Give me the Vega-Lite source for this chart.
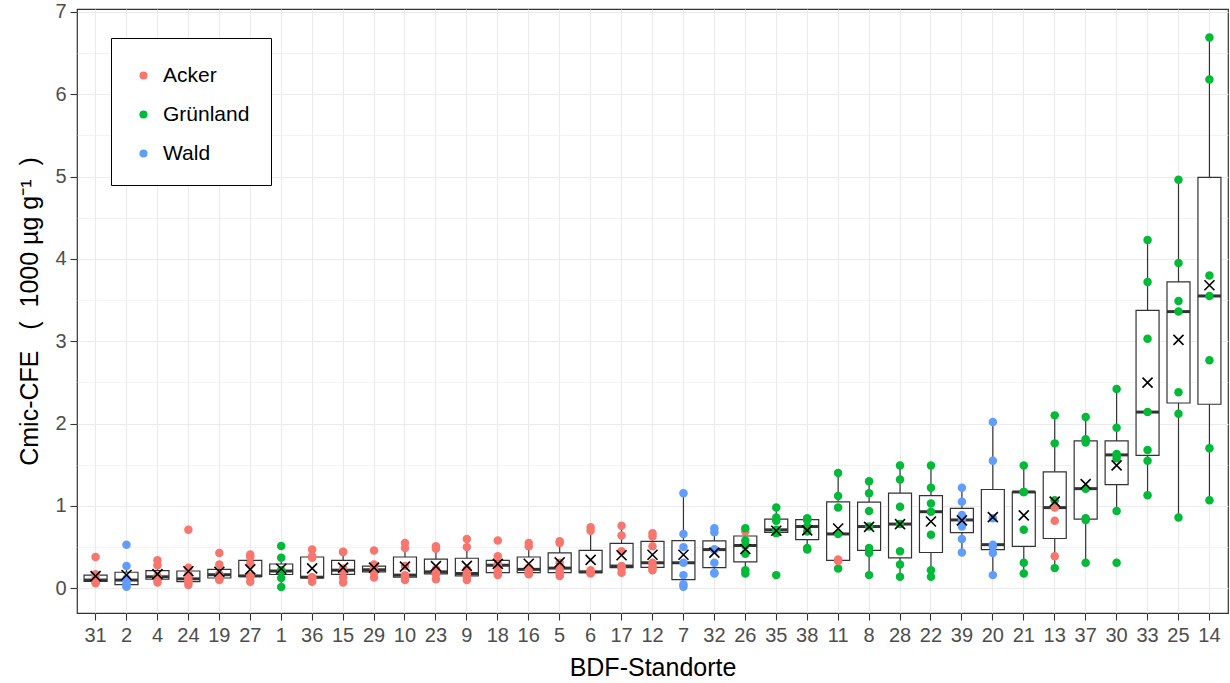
{
  "$schema": "https://vega.github.io/schema/vega-lite/v6.json",
  "width": 1151,
  "height": 604,
  "autosize": {"type": "none"},
  "padding": {"left": 77, "top": 9, "right": 2, "bottom": 70},
  "background": "white",
  "config": {"font": "Liberation Sans", "view": {"stroke": "#333333", "strokeWidth": 1.2}},
  "data": {"values": [
    {"site":"31","land":"Acker","value":0.06},{"site":"31","land":"Acker","value":0.08},{"site":"31","land":"Acker","value":0.09},{"site":"31","land":"Acker","value":0.10},{"site":"31","land":"Acker","value":0.15},{"site":"31","land":"Acker","value":0.17},{"site":"31","land":"Acker","value":0.38},
    {"site":"2","land":"Wald","value":0.02},{"site":"2","land":"Wald","value":0.03},{"site":"2","land":"Wald","value":0.06},{"site":"2","land":"Wald","value":0.10},{"site":"2","land":"Wald","value":0.12},{"site":"2","land":"Wald","value":0.27},{"site":"2","land":"Wald","value":0.53},
    {"site":"4","land":"Acker","value":0.07},{"site":"4","land":"Acker","value":0.10},{"site":"4","land":"Acker","value":0.12},{"site":"4","land":"Acker","value":0.14},{"site":"4","land":"Acker","value":0.15},{"site":"4","land":"Acker","value":0.28},{"site":"4","land":"Acker","value":0.34},
    {"site":"24","land":"Acker","value":0.04},{"site":"24","land":"Acker","value":0.07},{"site":"24","land":"Acker","value":0.09},{"site":"24","land":"Acker","value":0.115},{"site":"24","land":"Acker","value":0.17},{"site":"24","land":"Acker","value":0.25},{"site":"24","land":"Acker","value":0.71},
    {"site":"19","land":"Acker","value":0.10},{"site":"19","land":"Acker","value":0.12},{"site":"19","land":"Acker","value":0.13},{"site":"19","land":"Acker","value":0.165},{"site":"19","land":"Acker","value":0.17},{"site":"19","land":"Acker","value":0.29},{"site":"19","land":"Acker","value":0.43},
    {"site":"27","land":"Acker","value":0.08},{"site":"27","land":"Acker","value":0.14},{"site":"27","land":"Acker","value":0.15},{"site":"27","land":"Acker","value":0.15},{"site":"27","land":"Acker","value":0.30},{"site":"27","land":"Acker","value":0.38},{"site":"27","land":"Acker","value":0.41},
    {"site":"1","land":"Grünland","value":0.015},{"site":"1","land":"Grünland","value":0.125},{"site":"1","land":"Grünland","value":0.21},{"site":"1","land":"Grünland","value":0.21},{"site":"1","land":"Grünland","value":0.22},{"site":"1","land":"Grünland","value":0.37},{"site":"1","land":"Grünland","value":0.515},
    {"site":"36","land":"Acker","value":0.08},{"site":"36","land":"Acker","value":0.12},{"site":"36","land":"Acker","value":0.13},{"site":"36","land":"Acker","value":0.135},{"site":"36","land":"Acker","value":0.37},{"site":"36","land":"Acker","value":0.39},{"site":"36","land":"Acker","value":0.47},
    {"site":"15","land":"Acker","value":0.07},{"site":"15","land":"Acker","value":0.13},{"site":"15","land":"Acker","value":0.21},{"site":"15","land":"Acker","value":0.22},{"site":"15","land":"Acker","value":0.24},{"site":"15","land":"Acker","value":0.44},{"site":"15","land":"Acker","value":0.445},
    {"site":"29","land":"Acker","value":0.13},{"site":"29","land":"Acker","value":0.19},{"site":"29","land":"Acker","value":0.21},{"site":"29","land":"Acker","value":0.225},{"site":"29","land":"Acker","value":0.25},{"site":"29","land":"Acker","value":0.29},{"site":"29","land":"Acker","value":0.46},
    {"site":"10","land":"Acker","value":0.10},{"site":"10","land":"Acker","value":0.13},{"site":"10","land":"Acker","value":0.14},{"site":"10","land":"Acker","value":0.16},{"site":"10","land":"Acker","value":0.27},{"site":"10","land":"Acker","value":0.49},{"site":"10","land":"Acker","value":0.55},
    {"site":"23","land":"Acker","value":0.11},{"site":"23","land":"Acker","value":0.17},{"site":"23","land":"Acker","value":0.18},{"site":"23","land":"Acker","value":0.20},{"site":"23","land":"Acker","value":0.23},{"site":"23","land":"Acker","value":0.48},{"site":"23","land":"Acker","value":0.51},
    {"site":"9","land":"Acker","value":0.10},{"site":"9","land":"Acker","value":0.14},{"site":"9","land":"Acker","value":0.16},{"site":"9","land":"Acker","value":0.18},{"site":"9","land":"Acker","value":0.23},{"site":"9","land":"Acker","value":0.50},{"site":"9","land":"Acker","value":0.60},
    {"site":"18","land":"Acker","value":0.16},{"site":"18","land":"Acker","value":0.18},{"site":"18","land":"Acker","value":0.20},{"site":"18","land":"Acker","value":0.28},{"site":"18","land":"Acker","value":0.29},{"site":"18","land":"Acker","value":0.39},{"site":"18","land":"Acker","value":0.58},
    {"site":"16","land":"Acker","value":0.17},{"site":"16","land":"Acker","value":0.18},{"site":"16","land":"Acker","value":0.20},{"site":"16","land":"Acker","value":0.23},{"site":"16","land":"Acker","value":0.25},{"site":"16","land":"Acker","value":0.51},{"site":"16","land":"Acker","value":0.55},
    {"site":"5","land":"Acker","value":0.15},{"site":"5","land":"Acker","value":0.18},{"site":"5","land":"Acker","value":0.20},{"site":"5","land":"Acker","value":0.245},{"site":"5","land":"Acker","value":0.31},{"site":"5","land":"Acker","value":0.55},{"site":"5","land":"Acker","value":0.57},
    {"site":"6","land":"Acker","value":0.18},{"site":"6","land":"Acker","value":0.19},{"site":"6","land":"Acker","value":0.19},{"site":"6","land":"Acker","value":0.20},{"site":"6","land":"Acker","value":0.22},{"site":"6","land":"Acker","value":0.70},{"site":"6","land":"Acker","value":0.74},
    {"site":"17","land":"Acker","value":0.19},{"site":"17","land":"Acker","value":0.24},{"site":"17","land":"Acker","value":0.26},{"site":"17","land":"Acker","value":0.27},{"site":"17","land":"Acker","value":0.45},{"site":"17","land":"Acker","value":0.64},{"site":"17","land":"Acker","value":0.76},
    {"site":"12","land":"Acker","value":0.22},{"site":"12","land":"Acker","value":0.24},{"site":"12","land":"Acker","value":0.27},{"site":"12","land":"Acker","value":0.31},{"site":"12","land":"Acker","value":0.51},{"site":"12","land":"Acker","value":0.63},{"site":"12","land":"Acker","value":0.67},
    {"site":"7","land":"Wald","value":0.02},{"site":"7","land":"Wald","value":0.05},{"site":"7","land":"Wald","value":0.16},{"site":"7","land":"Wald","value":0.31},{"site":"7","land":"Wald","value":0.50},{"site":"7","land":"Wald","value":0.66},{"site":"7","land":"Wald","value":1.155},
    {"site":"32","land":"Wald","value":0.18},{"site":"32","land":"Wald","value":0.19},{"site":"32","land":"Wald","value":0.31},{"site":"32","land":"Wald","value":0.47},{"site":"32","land":"Wald","value":0.47},{"site":"32","land":"Wald","value":0.68},{"site":"32","land":"Wald","value":0.73},
    {"site":"26","land":"Grünland","value":0.18},{"site":"26","land":"Grünland","value":0.22},{"site":"26","land":"Grünland","value":0.42},{"site":"26","land":"Grünland","value":0.52},{"site":"26","land":"Grünland","value":0.58},{"site":"26","land":"Acker","value":0.69},{"site":"26","land":"Grünland","value":0.73},
    {"site":"35","land":"Grünland","value":0.16},{"site":"35","land":"Grünland","value":0.67},{"site":"35","land":"Grünland","value":0.69},{"site":"35","land":"Grünland","value":0.71},{"site":"35","land":"Grünland","value":0.82},{"site":"35","land":"Grünland","value":0.86},{"site":"35","land":"Grünland","value":0.98},
    {"site":"38","land":"Grünland","value":0.47},{"site":"38","land":"Grünland","value":0.49},{"site":"38","land":"Grünland","value":0.69},{"site":"38","land":"Grünland","value":0.75},{"site":"38","land":"Grünland","value":0.83},{"site":"38","land":"Grünland","value":0.84},{"site":"38","land":"Grünland","value":0.85},
    {"site":"11","land":"Grünland","value":0.24},{"site":"11","land":"Acker","value":0.33},{"site":"11","land":"Acker","value":0.35},{"site":"11","land":"Grünland","value":0.66},{"site":"11","land":"Grünland","value":0.98},{"site":"11","land":"Grünland","value":1.12},{"site":"11","land":"Grünland","value":1.40},
    {"site":"8","land":"Grünland","value":0.16},{"site":"8","land":"Grünland","value":0.43},{"site":"8","land":"Grünland","value":0.49},{"site":"8","land":"Grünland","value":0.75},{"site":"8","land":"Grünland","value":0.94},{"site":"8","land":"Grünland","value":1.155},{"site":"8","land":"Grünland","value":1.30},
    {"site":"28","land":"Grünland","value":0.14},{"site":"28","land":"Grünland","value":0.29},{"site":"28","land":"Grünland","value":0.45},{"site":"28","land":"Grünland","value":0.78},{"site":"28","land":"Grünland","value":0.99},{"site":"28","land":"Grünland","value":1.32},{"site":"28","land":"Grünland","value":1.49},
    {"site":"22","land":"Grünland","value":0.14},{"site":"22","land":"Grünland","value":0.22},{"site":"22","land":"Grünland","value":0.65},{"site":"22","land":"Grünland","value":0.93},{"site":"22","land":"Grünland","value":1.03},{"site":"22","land":"Grünland","value":1.22},{"site":"22","land":"Grünland","value":1.49},
    {"site":"39","land":"Wald","value":0.435},{"site":"39","land":"Wald","value":0.60},{"site":"39","land":"Wald","value":0.75},{"site":"39","land":"Wald","value":0.83},{"site":"39","land":"Wald","value":0.89},{"site":"39","land":"Wald","value":1.05},{"site":"39","land":"Wald","value":1.22},
    {"site":"20","land":"Wald","value":0.16},{"site":"20","land":"Wald","value":0.43},{"site":"20","land":"Wald","value":0.51},{"site":"20","land":"Wald","value":0.53},{"site":"20","land":"Wald","value":0.85},{"site":"20","land":"Wald","value":1.55},{"site":"20","land":"Wald","value":2.02},
    {"site":"21","land":"Grünland","value":0.18},{"site":"21","land":"Grünland","value":0.31},{"site":"21","land":"Grünland","value":0.71},{"site":"21","land":"Grünland","value":1.17},{"site":"21","land":"Grünland","value":1.17},{"site":"21","land":"Grünland","value":1.17},{"site":"21","land":"Grünland","value":1.49},
    {"site":"13","land":"Grünland","value":0.245},{"site":"13","land":"Acker","value":0.39},{"site":"13","land":"Acker","value":0.82},{"site":"13","land":"Acker","value":0.98},{"site":"13","land":"Grünland","value":1.07},{"site":"13","land":"Grünland","value":1.76},{"site":"13","land":"Grünland","value":2.10},
    {"site":"37","land":"Grünland","value":0.31},{"site":"37","land":"Grünland","value":0.83},{"site":"37","land":"Grünland","value":0.85},{"site":"37","land":"Grünland","value":1.21},{"site":"37","land":"Grünland","value":1.77},{"site":"37","land":"Grünland","value":1.81},{"site":"37","land":"Grünland","value":2.08},
    {"site":"30","land":"Grünland","value":0.31},{"site":"30","land":"Grünland","value":0.94},{"site":"30","land":"Grünland","value":1.58},{"site":"30","land":"Grünland","value":1.62},{"site":"30","land":"Grünland","value":1.63},{"site":"30","land":"Grünland","value":1.95},{"site":"30","land":"Grünland","value":2.42},
    {"site":"33","land":"Grünland","value":1.13},{"site":"33","land":"Grünland","value":1.55},{"site":"33","land":"Grünland","value":1.68},{"site":"33","land":"Grünland","value":2.14},{"site":"33","land":"Grünland","value":3.03},{"site":"33","land":"Grünland","value":3.72},{"site":"33","land":"Grünland","value":4.23},
    {"site":"25","land":"Grünland","value":0.86},{"site":"25","land":"Grünland","value":2.12},{"site":"25","land":"Grünland","value":2.38},{"site":"25","land":"Grünland","value":3.36},{"site":"25","land":"Grünland","value":3.49},{"site":"25","land":"Grünland","value":3.95},{"site":"25","land":"Grünland","value":4.96},
    {"site":"14","land":"Grünland","value":1.07},{"site":"14","land":"Grünland","value":1.70},{"site":"14","land":"Grünland","value":2.77},{"site":"14","land":"Grünland","value":3.55},{"site":"14","land":"Grünland","value":3.80},{"site":"14","land":"Grünland","value":6.18},{"site":"14","land":"Grünland","value":6.69}
  ]},
  "encoding": {
    "x": {
      "field": "site", "type": "nominal",
      "sort": ["31","2","4","24","19","27","1","36","15","29","10","23","9","18","16","5","6","17","12","7","32","26","35","38","11","8","28","22","39","20","21","13","37","30","33","25","14"],
      "scale": {"paddingInner": 0.25, "paddingOuter": 0.225},
      "axis": {
        "title": "BDF-Standorte", "grid": true, "gridColor": "#EBEBEB", "gridWidth": 1.1,
        "bandPosition": 0.5, "domain": false, "labelAngle": 0,
        "tickColor": "#333333", "tickSize": 7, "tickWidth": 1.1,
        "labelFontSize": 20, "labelColor": "#4D4D4D", "labelPadding": 5,
        "titleFontSize": 25, "titleFontWeight": "normal", "titleColor": "black", "titlePadding": 10
      }
    },
    "y": {
      "field": "value", "type": "quantitative",
      "title": "Cmic-CFE\u00a0\u00a0\u00a0(\u00a0\u00a01000 µg g⁻¹\u00a0\u00a0)",
      "scale": {"domain": [-0.30, 7.035], "nice": false, "zero": false},
      "axis": {
        "values": [0,0.5,1,1.5,2,2.5,3,3.5,4,4.5,5,5.5,6,6.5,7],
        "labelExpr": "datum.value % 1 === 0 ? format(datum.value, 'd') : ''",
        "gridColor": "#EBEBEB",
        "gridWidth": {"condition": {"test": "datum.value % 1 === 0", "value": 1.1}, "value": 0.6},
        "tickOpacity": {"condition": {"test": "datum.value % 1 === 0", "value": 1}, "value": 0},
        "domain": false, "tickColor": "#333333", "tickSize": 7, "tickWidth": 1.1,
        "labelFontSize": 20, "labelColor": "#4D4D4D", "labelPadding": 4,
        "titleFontSize": 25, "titleFontWeight": "normal", "titleColor": "black", "titlePadding": 12
      }
    }
  },
  "layer": [
    {
      "mark": {
        "type": "boxplot", "extent": 1.5, "size": 23, "outliers": false, "ticks": false,
        "box": {"fill": "white", "stroke": "#333333", "strokeWidth": 1.2},
        "median": {"color": "#333333", "thickness": 3, "opacity": 1},
        "rule": {"color": "#333333", "strokeWidth": 1.2}
      }
    },
    {
      "mark": {"type": "circle", "size": 72, "opacity": 1},
      "encoding": {
        "color": {
          "field": "land", "type": "nominal",
          "scale": {"domain": ["Acker","Grünland","Wald"], "range": ["#F8766D","#00BA38","#619CFF"]},
          "legend": {
            "title": " ", "titleFontSize": 2, "titlePadding": 4, "orient": "none", "legendX": 34, "legendY": 29,
            "fillColor": "white", "strokeColor": "black", "padding": 21,
            "labelFontSize": 21, "labelColor": "black", "symbolSize": 66, "symbolType": "circle",
            "rowPadding": 17, "labelOffset": 9, "symbolOffset": 1
          }
        }
      }
    },
    {
      "mark": {"type": "point", "shape": "M-1,-1L1,1M-1,1L1,-1", "size": 100, "filled": false, "stroke": "black", "strokeWidth": 1.6, "opacity": 1},
      "encoding": {
        "y": {"aggregate": "mean", "field": "value", "type": "quantitative", "title": "Cmic-CFE\u00a0\u00a0\u00a0(\u00a0\u00a01000 µg g⁻¹\u00a0\u00a0)"}
      }
    }
  ]
}
